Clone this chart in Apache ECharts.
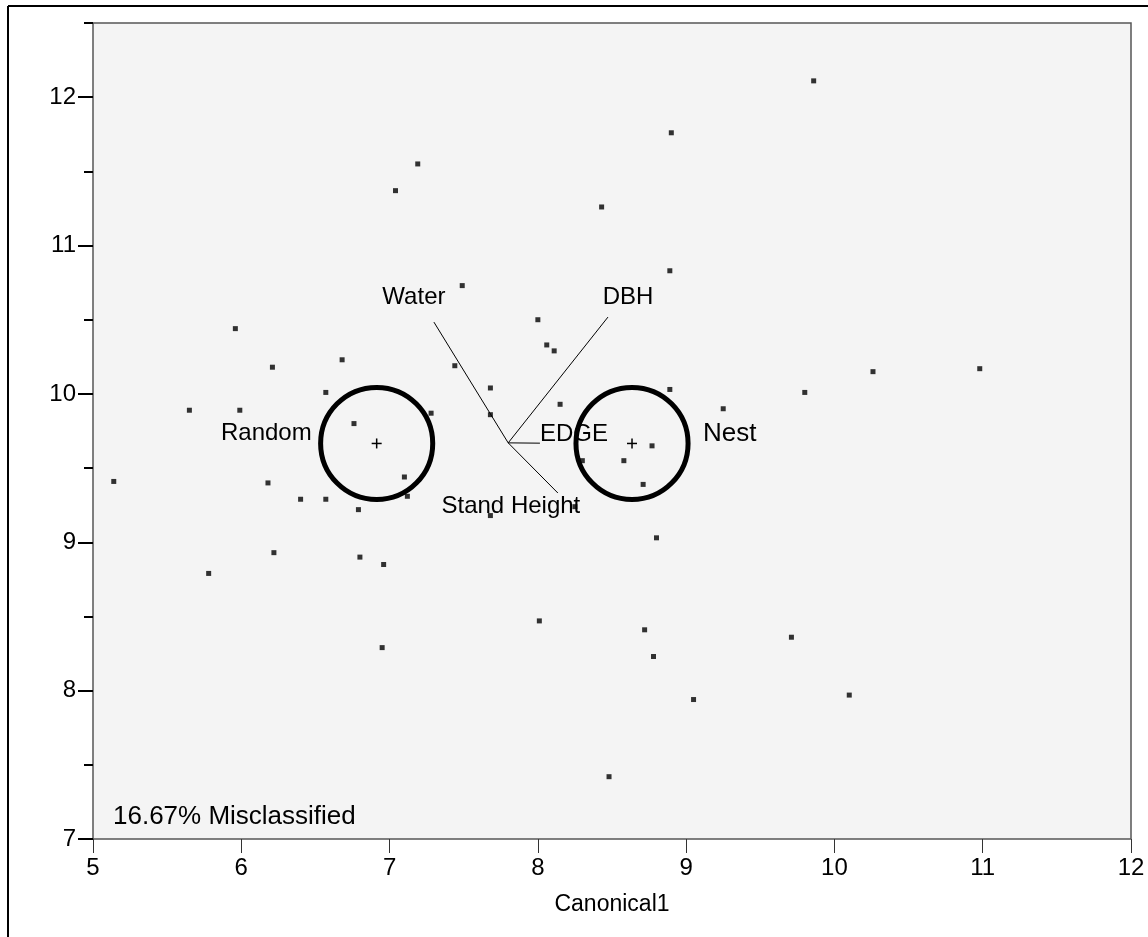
<!DOCTYPE html>
<html>
<head>
<meta charset="utf-8">
<script src="https://cdn.jsdelivr.net/npm/echarts@6.0.0/dist/echarts.min.js"></script>
<style>
    html, body { margin: 0; padding: 0; background: #fff; }
    #chart { width: 1148px; height: 937px; }
</style>
</head>
<body>
<div id="chart"></div>
<script>
// canonical scores of each observation
const canonical1 = [5.14, 5.65, 5.78, 5.96, 5.99, 6.18, 6.21, 6.22, 6.40, 6.57, 6.57, 6.68, 6.76, 6.79, 6.80, 6.95, 6.96, 7.04, 7.10, 7.12, 7.19, 7.28, 7.44, 7.49, 7.68, 7.68, 7.68, 8.00, 8.01, 8.06, 8.11, 8.15, 8.25, 8.30, 8.43, 8.48, 8.58, 8.71, 8.72, 8.77, 8.78, 8.80, 8.89, 8.89, 8.90, 9.05, 9.25, 9.71, 9.80, 9.86, 10.10, 10.26, 10.98]
const canonical2 = [9.41, 9.89, 8.79, 10.44, 9.89, 9.40, 10.18, 8.93, 9.29, 10.01, 9.29, 10.23, 9.80, 9.22, 8.90, 8.29, 8.85, 11.37, 9.44, 9.31, 11.55, 9.87, 10.19, 10.73, 9.18, 10.04, 9.86, 10.50, 8.47, 10.33, 10.29, 9.93, 9.24, 9.55, 11.26, 7.42, 9.55, 9.39, 8.41, 9.65, 8.23, 9.03, 10.83, 10.03, 11.76, 7.94, 9.90, 8.36, 10.01, 12.11, 7.97, 10.15, 10.17]

// group means + confidence circles
const groupNames = ['Random', 'Nest']
const groupX = [6.913, 8.635]
const groupY = [9.666, 9.666]
const groupRadius = 0.378

// biplot rays
const rayOrigin = [7.80, 9.67]
const rayNames = ['Water', 'DBH', 'EDGE', 'Stand Height']
const rayEndX = [7.299, 8.473, 8.014, 8.135]
const rayEndY = [10.484, 10.518, 9.668, 9.332]

const xTicks = [5, 6, 7, 8, 9, 10, 11, 12]
const yTicks = [7, 8, 9, 10, 11, 12]
const yMinorTicks = [7, 7.5, 8, 8.5, 9, 9.5, 10, 10.5, 11, 11.5, 12, 12.5]

const FONT = 'Liberation Sans, Arial, sans-serif'

let points = canonical1.map((x, i) => [x, canonical2[i]])
let groups = groupNames.map((n, i) => [groupX[i], groupY[i], n])
let rays = rayNames.map((n, i) => [rayEndX[i], rayEndY[i], n])

// label placement for ray ends (px)
const rayLabelStyle = {
    'Water': { dx: -20, dy: -25, align: 'center' },
    'DBH': { dx: 20, dy: -20, align: 'center' },
    'EDGE': { dx: 0, dy: -9, align: 'left' },
    'Stand Height': { dx: -47, dy: 13, align: 'center' }
}
const groupLabelStyle = {
    'Random': { dx: -65, dy: -10, align: 'right', size: 24 },
    'Nest': { dx: 71, dy: -10, align: 'left', size: 26 }
}

let myChart = echarts.init(document.getElementById('chart'))
myChart.setOption({
    animation: false,
    backgroundColor: '#fff',
    grid: {
        left: 93,
        top: 23,
        right: 17,
        bottom: 98,
        show: true,
        backgroundColor: '#f4f4f4',
        borderColor: '#555',
        borderWidth: 1.5
    },
    xAxis: {
        type: 'value',
        min: 5,
        max: 12,
        interval: 1,
        name: 'Canonical1',
        nameLocation: 'middle',
        nameGap: 54,
        nameTextStyle: { color: '#000', fontSize: 23, fontFamily: FONT },
        axisLine: { show: false },
        splitLine: { show: false },
        axisTick: { show: true, length: 14, customValues: xTicks, lineStyle: { color: '#333', width: 1 } },
        axisLabel: { customValues: xTicks, margin: 17, color: '#000', fontSize: 24, fontFamily: FONT }
    },
    yAxis: [
        {
            type: 'value',
            min: 7,
            max: 12.5,
            axisLine: { show: false },
            splitLine: { show: false },
            axisTick: { show: true, length: 9, customValues: yMinorTicks, lineStyle: { color: '#000', width: 2 } },
            axisLabel: { customValues: yTicks, margin: 17, color: '#000', fontSize: 24, fontFamily: FONT }
        },
        {
            type: 'value',
            position: 'left',
            min: 7,
            max: 12.5,
            axisLine: { show: false },
            splitLine: { show: false },
            axisTick: { show: true, length: 15, customValues: yTicks, lineStyle: { color: '#000', width: 2 } },
            axisLabel: { show: false }
        }
    ],
    graphic: [
        { type: 'line', shape: { x1: 8, y1: 6, x2: 1148, y2: 6 }, style: { stroke: '#000', lineWidth: 2 } },
        { type: 'line', shape: { x1: 8, y1: 6, x2: 8, y2: 937 }, style: { stroke: '#000', lineWidth: 2 } },
        {
            type: 'text', left: 113, top: 804,
            style: { text: '16.67% Misclassified', fill: '#000', fontSize: 26, fontFamily: FONT }
        }
    ],
    series: [
        {
            name: 'rays',
            type: 'custom',
            data: rays,
            z: 3,
            renderItem: function (params, api) {
                let o = api.coord(rayOrigin)
                let e = api.coord([api.value(0), api.value(1)])
                let name = rays[params.dataIndex][2]
                let st = rayLabelStyle[name]
                return {
                    type: 'group',
                    children: [
                        { type: 'line', shape: { x1: o[0], y1: o[1], x2: e[0], y2: e[1] }, style: { stroke: '#000', lineWidth: 1 } },
                        {
                            type: 'text',
                            x: e[0] + st.dx, y: e[1] + st.dy,
                            style: { text: name, fill: '#000', fontSize: 24, fontFamily: FONT, align: st.align, verticalAlign: 'middle' }
                        }
                    ]
                }
            }
        },
        {
            name: 'points',
            type: 'scatter',
            data: points,
            symbol: 'rect',
            symbolSize: 5,
            z: 4,
            itemStyle: { color: '#000' }
        },
        {
            name: 'groups',
            type: 'custom',
            data: groups,
            z: 5,
            renderItem: function (params, api) {
                let c = api.coord([api.value(0), api.value(1)])
                let r = api.size([groupRadius, groupRadius])[0]
                let name = groups[params.dataIndex][2]
                let st = groupLabelStyle[name]
                return {
                    type: 'group',
                    children: [
                        { type: 'circle', shape: { cx: c[0], cy: c[1], r: r }, style: { fill: 'none', stroke: '#000', lineWidth: 5 } },
                        { type: 'line', shape: { x1: c[0] - 5, y1: c[1], x2: c[0] + 5, y2: c[1] }, style: { stroke: '#000', lineWidth: 1.5 } },
                        { type: 'line', shape: { x1: c[0], y1: c[1] - 5, x2: c[0], y2: c[1] + 5 }, style: { stroke: '#000', lineWidth: 1.5 } },
                        {
                            type: 'text',
                            x: c[0] + st.dx, y: c[1] + st.dy,
                            style: { text: name, fill: '#000', fontSize: st.size, fontFamily: FONT, align: st.align, verticalAlign: 'middle' }
                        }
                    ]
                }
            }
        }
    ]
})
</script>
</body>
</html>
